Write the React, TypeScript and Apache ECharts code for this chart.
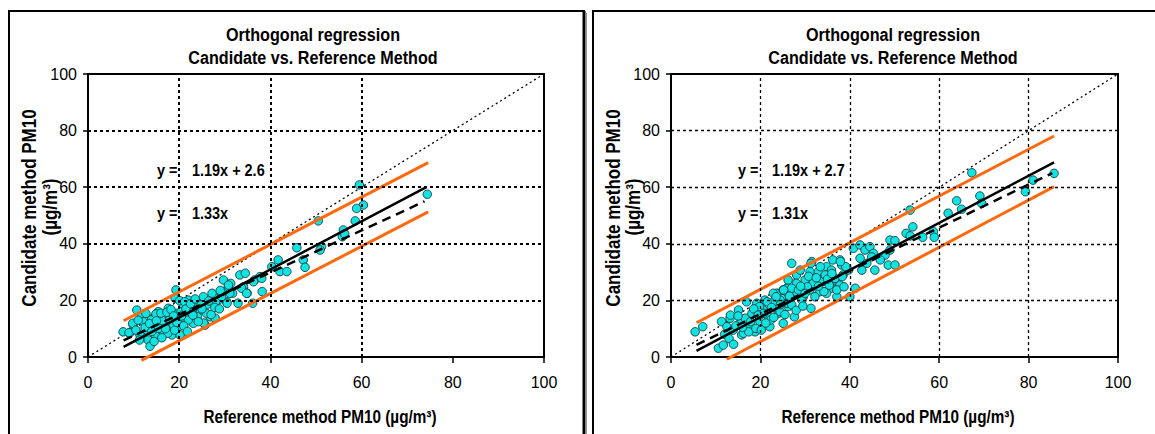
import React, { useEffect, useRef } from "react";
import * as echarts from "echarts";

const FONT = '"Liberation Sans", Arial, sans-serif';

const axisTicks = [0, 20, 40, 60, 80, 100];
const hGrid = [20, 40, 60, 80];
const leftVGrid = [20, 40, 60];
const rightVGrid = [20, 40, 60, 80];

const titleLines = ["Orthogonal regression", "Candidate vs. Reference Method"];
const yName = "Candidate method PM10";
const yUnit = "(µg/m³)";
const xName = "Reference method PM10 (µg/m³)";
const leftEq = ["1.19x + 2.6", "1.33x"];
const rightEq = ["1.19x + 2.7", "1.31x"];

// Line endpoints [x, y]
const identityLine = [[0, 0], [100, 100]];
const leftFit = [[7.8, 3.6], [74.2, 60.0]];
const leftThroughZero = [[7.8, 5.9], [73.8, 55.0]];
const leftUpper = [[7.8, 12.8], [74.6, 68.7]];
const leftLower = [[11.7, -1.2], [74.6, 51.3]];
const rightFit = [[5.7, 2.2], [85.7, 68.8]];
const rightThroughZero = [[5.7, 4.3], [85.3, 65.0]];
const rightUpper = [[5.7, 12.1], [85.7, 78.1]];
const rightLower = [[12.5, -0.8], [85.7, 60.2]];

const leftPoints = [
  [7.7, 8.9], [9.1, 8.4], [10.7, 16.6], [9.9, 11.3], [11.8, 14.8], [12.1, 12.5], [12.9, 9.5], [11.4, 7.8],
  [13.2, 6.0], [13.6, 3.8], [14.3, 13.7], [14.7, 7.8], [15.4, 16.0], [15.8, 11.3], [16.5, 8.9], [16.9, 14.2],
  [17.6, 17.2], [18.0, 12.5], [18.4, 7.8], [19.1, 20.7], [19.3, 23.7], [19.6, 15.4], [19.8, 10.7], [20.2, 7.8],
  [20.9, 18.4], [21.3, 13.1], [22.0, 20.1], [22.4, 16.0], [23.1, 11.9], [23.8, 19.5], [24.6, 16.6], [25.3, 21.3],
  [26.0, 18.4], [26.8, 14.2], [27.5, 21.9], [27.9, 13.7], [28.6, 20.1], [25.7, 11.3], [29.7, 23.1], [30.8, 24.8],
  [30.4, 19.5], [9.0, 8.6], [9.8, 11.9], [11.3, 6.0], [12.7, 15.4], [13.9, 13.1], [14.9, 15.2], [15.5, 10.1],
  [16.4, 12.8], [17.5, 8.4], [17.9, 13.1], [18.7, 11.3], [20.1, 19.9], [20.4, 16.0], [21.2, 19.5], [22.0, 13.1],
  [22.8, 16.6], [24.0, 14.2], [24.8, 18.4], [25.4, 12.0], [26.0, 15.4], [27.0, 15.0], [27.2, 22.5], [28.0, 19.5],
  [29.3, 21.3], [29.7, 27.2], [30.5, 19.0], [31.3, 26.0], [31.7, 22.5], [32.9, 19.0], [33.3, 29.0], [34.5, 29.6],
  [34.1, 24.8], [34.9, 22.5], [36.1, 19.0], [36.5, 27.2], [37.7, 28.4], [38.2, 23.1], [59.5, 60.8], [60.4, 53.7],
  [58.9, 52.5], [58.6, 48.1], [50.5, 48.1], [56.0, 44.9], [55.8, 42.5], [56.3, 43.5], [51.2, 39.0], [50.9, 37.8],
  [45.8, 38.6], [47.2, 34.3], [47.6, 31.7], [41.7, 34.3], [42.1, 30.2], [43.6, 30.2], [40.3, 31.9], [38.1, 27.8],
  [36.3, 26.6], [33.7, 24.3], [34.8, 22.5], [31.1, 22.5], [30.8, 25.4], [74.4, 57.5], [10.5, 9.5], [11.0, 13.0],
  [12.5, 10.5], [13.5, 11.8], [14.0, 9.0], [14.5, 5.5], [15.0, 12.8], [16.0, 15.5], [16.2, 6.8], [17.0, 10.0],
  [17.3, 15.8], [18.2, 16.8], [18.8, 14.5], [19.0, 9.5], [19.5, 12.2], [20.5, 14.5], [21.0, 11.0], [21.5, 17.0],
  [21.8, 9.0], [22.5, 18.8], [23.0, 14.8], [23.5, 20.5], [24.2, 12.5], [25.0, 17.0], [26.5, 19.8], [27.8, 17.5],
  [28.8, 17.0], [29.0, 23.5],
];

const rightPoints = [
  [5.4, 8.9], [7.1, 10.7], [10.6, 3.1], [11.7, 4.2], [11.3, 12.5], [12.5, 10.7], [13.2, 13.7], [13.9, 9.5],
  [15.1, 16.6], [15.4, 11.9], [15.8, 7.8], [16.6, 13.7], [16.9, 19.5], [17.3, 10.7], [18.1, 15.4], [18.8, 8.9],
  [19.2, 19.0], [19.9, 12.5], [20.6, 16.6], [21.0, 20.1], [21.8, 14.2], [22.1, 10.7], [22.9, 19.5], [23.6, 22.5],
  [24.0, 15.4], [24.8, 20.7], [25.1, 11.9], [25.9, 24.3], [26.2, 17.8], [27.0, 33.1], [27.7, 23.1], [28.1, 29.0],
  [31.5, 33.7], [31.1, 30.2], [28.9, 30.7], [30.0, 27.2], [28.1, 26.0], [27.0, 24.3], [26.2, 27.2], [33.0, 30.2],
  [33.7, 27.2], [34.8, 31.9], [35.9, 30.7], [36.7, 27.2], [37.8, 34.3], [38.2, 32.5], [38.5, 29.0], [37.8, 25.4],
  [35.9, 24.3], [34.8, 22.5], [37.1, 21.3], [40.0, 21.3], [41.2, 24.3], [40.8, 38.4], [42.3, 39.6], [43.4, 37.8],
  [44.5, 39.0], [45.3, 36.6], [42.3, 34.9], [43.8, 33.1], [45.6, 30.7], [42.7, 30.7], [39.7, 30.7], [29.6, 21.3],
  [24.4, 20.1], [22.9, 22.5], [25.1, 23.7], [31.1, 23.7], [31.8, 26.0], [33.3, 23.1], [67.3, 65.1], [53.5, 51.9],
  [63.9, 55.2], [69.1, 56.9], [69.5, 54.3], [65.0, 52.2], [62.0, 50.8], [54.1, 46.0], [52.6, 43.7], [56.3, 42.3],
  [58.7, 44.3], [58.9, 42.3], [53.5, 42.8], [49.0, 41.3], [50.1, 41.1], [49.0, 37.8], [47.9, 36.0], [44.9, 35.4],
  [48.6, 32.5], [50.1, 32.5], [46.8, 34.3], [79.3, 58.4], [81.0, 62.5], [85.7, 64.9], [13.3, 14.8], [16.2, 8.4],
  [17.4, 8.9], [19.0, 10.1], [19.8, 17.8], [20.7, 15.4], [21.5, 19.5], [22.3, 13.1], [23.5, 21.3], [24.4, 16.0],
  [25.2, 23.7], [26.0, 19.0], [27.6, 14.2], [28.5, 23.7], [29.3, 20.1], [30.5, 24.8], [31.3, 17.2], [32.2, 21.3],
  [33.8, 26.6], [34.2, 23.1], [35.4, 25.4], [36.7, 27.8], [37.1, 23.7], [38.3, 28.4], [38.7, 24.8], [39.1, 31.9],
  [31.3, 33.1], [33.4, 31.9], [36.2, 34.3], [37.9, 33.7], [12.0, 8.0], [13.0, 6.5], [14.5, 11.0], [15.0, 14.5],
  [16.0, 10.5], [17.8, 12.5], [18.5, 17.0], [19.5, 14.8], [20.2, 9.5], [21.2, 12.0], [22.5, 17.5], [23.0, 14.0],
  [24.5, 18.5], [25.5, 15.0], [26.5, 21.5], [27.0, 18.5], [28.0, 16.5], [29.0, 25.0], [30.0, 22.5], [30.8, 28.5],
  [32.5, 28.0], [33.0, 25.0], [34.5, 29.0], [35.0, 27.5], [36.0, 29.5], [29.5, 18.0], [14.0, 4.5],
];

const ORANGE = "#FF6A10";
const NARROW = 0.85;

function buildAxis(gridIndex: number, isX: boolean) {
  return {
    gridIndex,
    type: "value",
    min: 0,
    max: 100,
    interval: 20,
    axisLine: { show: true, onZero: false, lineStyle: { color: "#000", width: 2 } },
    axisTick: { show: true, length: isX ? 6 : 5, lineStyle: { color: "#000", width: 1.5 } },
    axisLabel: {
      color: "#000",
      fontSize: 16,
      fontFamily: FONT,
      margin: isX ? 17 : 11,
      formatter: (v: number) => (axisTicks.includes(v) ? String(v) : ""),
    },
    splitLine: { show: false },
  };
}

function lineSeries(idx: number, pts: number[][], color: string, width: number, type: any, z = 4) {
  return {
    type: "line",
    xAxisIndex: idx,
    yAxisIndex: idx,
    data: pts,
    symbol: "none",
    lineStyle: { color, width, type },
    z,
    silent: true,
    clip: false,
  };
}

function gridSeries(idx: number, vGrid: number[], width: number) {
  return {
    type: "line",
    xAxisIndex: idx,
    yAxisIndex: idx,
    data: [],
    z: 1,
    silent: true,
    markLine: {
      silent: true,
      symbol: ["none", "none"],
      label: { show: false },
      animation: false,
      lineStyle: { color: "#000", width, type: [3, 3] },
      data: [
        ...vGrid.map((v) => ({ xAxis: v })),
        ...hGrid.map((v) => ({ yAxis: v })),
      ],
    },
  };
}

function scatterSeries(idx: number, pts: number[][]) {
  return {
    type: "scatter",
    xAxisIndex: idx,
    yAxisIndex: idx,
    data: pts,
    symbol: "circle",
    symbolSize: 8.5,
    itemStyle: { color: "#12E2E2", borderColor: "#0d4040", borderWidth: 0.9, opacity: 1 },
    z: 3,
    silent: true,
  };
}

function panelTexts(cx: number, yNameX: number, yUnitX: number, xNameX: number, eqYX: number, eqX: number, eq: string[]) {
  const base = { fill: "#000", fontFamily: FONT, fontWeight: "bold", textAlign: "center", textVerticalAlign: "middle" };
  const t = (x: number, y: number, text: string, fontSize: number, extra: any = {}, rot = 0) => ({
    type: "text",
    x,
    y,
    rotation: rot,
    scaleX: NARROW,
    style: { ...base, text, fontSize, ...extra },
  });
  return [
    t(cx, 35, titleLines[0], 19),
    t(cx, 58, titleLines[1], 19),
    t(yNameX, 208, yName, 20, {}, Math.PI / 2),
    t(yUnitX, 207, yUnit, 20, {}, Math.PI / 2),
    t(xNameX, 417, xName, 18),
    t(eqYX, 170, "y =", 17, { textAlign: "left" }),
    t(eqX, 170, eq[0], 17, { textAlign: "left" }),
    t(eqYX, 213, "y =", 17, { textAlign: "left" }),
    t(eqX, 213, eq[1], 17, { textAlign: "left" }),
  ];
}

export default function App() {
  const ref = useRef<HTMLDivElement>(null);
  useEffect(() => {
    if (!ref.current) return;
    const chart = echarts.init(ref.current, null, { renderer: "svg" });
    const option: any = {
      animation: false,
      backgroundColor: "#fff",
      grid: [
        { left: 88, top: 74, width: 456, height: 283, show: true, borderColor: "#000", borderWidth: 2, backgroundColor: "transparent" },
        { left: 671, top: 74, width: 447, height: 283, show: true, borderColor: "#000", borderWidth: 2, backgroundColor: "transparent" },
      ],
      xAxis: [buildAxis(0, true), buildAxis(1, true)],
      yAxis: [buildAxis(0, false), buildAxis(1, false)],
      series: [
        gridSeries(0, leftVGrid, 2),
        gridSeries(1, rightVGrid, 1.3),
        scatterSeries(0, leftPoints),
        scatterSeries(1, rightPoints),
        lineSeries(0, identityLine, "#000", 1.3, [2, 3], 2),
        lineSeries(1, identityLine, "#000", 1.3, [2, 3], 2),
        lineSeries(0, leftUpper, ORANGE, 3, "solid"),
        lineSeries(0, leftLower, ORANGE, 3, "solid"),
        lineSeries(1, rightUpper, ORANGE, 3, "solid"),
        lineSeries(1, rightLower, ORANGE, 3, "solid"),
        lineSeries(0, leftThroughZero, "#000", 2.5, [9, 6], 5),
        lineSeries(1, rightThroughZero, "#000", 2.5, [9, 6], 5),
        lineSeries(0, leftFit, "#000", 2.5, "solid", 5),
        lineSeries(1, rightFit, "#000", 2.5, "solid", 5),
      ],
      graphic: [
        { type: "rect", shape: { x: 9, y: 11, width: 575, height: 440 }, style: { fill: "none", stroke: "#000", lineWidth: 2 }, z: 10 },
        { type: "line", shape: { x1: 584, y1: 11, x2: 584, y2: 440 }, style: { stroke: "#000", lineWidth: 3 }, z: 10 },
        { type: "line", shape: { x1: 586.5, y1: 13, x2: 586.5, y2: 440 }, style: { stroke: "#999", lineWidth: 1 }, z: 10 },
        { type: "rect", shape: { x: 593, y: 11, width: 580, height: 440 }, style: { fill: "none", stroke: "#000", lineWidth: 2 }, z: 10 },
        ...panelTexts(313, 29, 50, 320, 157, 192, leftEq),
        ...panelTexts(893, 613, 633, 898, 738, 772, rightEq),
      ],
    };
    chart.setOption(option);
    return () => chart.dispose();
  }, []);
  return <div ref={ref} style={{ position: "fixed", left: 0, top: 0, width: 1155, height: 434 }} />;
}
